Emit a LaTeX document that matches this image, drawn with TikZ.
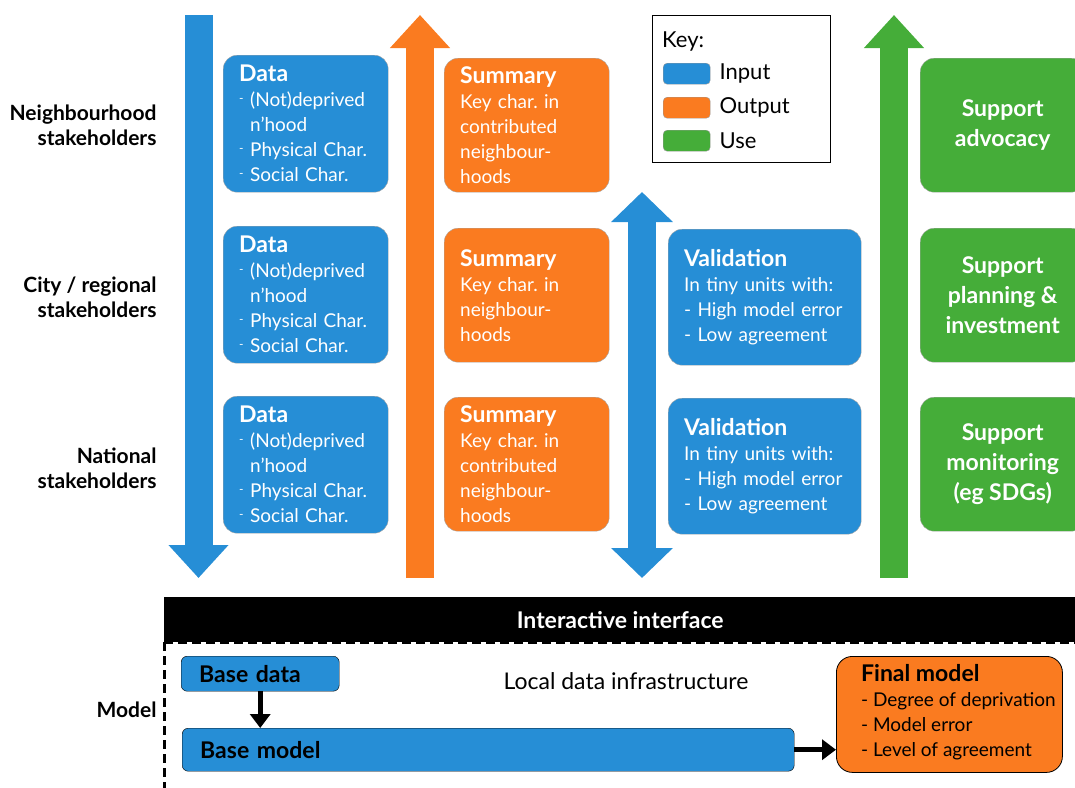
\documentclass[tikz,border=0pt]{standalone}
\usepackage{fontspec}
\setmainfont{Lato}
\frenchspacing
\usetikzlibrary{
  arrows.meta, % for the Triangle arrow tips of the big arrows
  positioning, % for relative placement of the key entries
}
\definecolor{inblue}{RGB}{38,142,214}
\definecolor{outorange}{RGB}{250,123,32}
\definecolor{usegreen}{RGB}{69,173,57}
\newcommand{\hd}[1]{{\fontsize{23}{27}\selectfont\bfseries #1}} % box heading
\newcommand{\bodyfont}{\fontsize{19}{25}\selectfont}
\newcommand{\dsh}{\makebox[11pt][l]{\raisebox{4pt}{\fontsize{12}{12}\selectfont -}}} % raised dash
\tikzset{
  box/.style={ % common style for the rounded boxes
    rectangle,draw=black!35,thin, % faint outline
    rounded corners=14pt, % soft corners
    inner sep=0pt, % the sizes are set by minimum width/height
    anchor=north west, % boxes are placed at their top left corner
    align=left,text=white,
    font=\bodyfont,
  },
  inbox/.style={box,fill=inblue}, % input boxes
  outbox/.style={box,fill=outorange}, % output boxes
  usebox/.style={box,fill=usegreen,align=center,font=\fontsize{23}{30}\selectfont\bfseries}, % use boxes
  level/.style={ % stakeholder labels on the left
    align=right,anchor=east,
    font=\fontsize{21}{25}\selectfont\bfseries,
  },
  bigdown/.style={line width=28pt,-{Triangle[length=33pt,width=58pt]}}, % big block arrows
  bigboth/.style={line width=28pt,{Triangle[length=30pt,width=60pt]}-{Triangle[length=30pt,width=60pt]}},
  swatch/.style={rectangle,rounded corners=4pt,draw=black!40,minimum width=47pt,minimum height=21pt,inner sep=0pt},
  keytext/.style={anchor=west,font=\fontsize{22}{24}\selectfont,inner sep=0pt},
  conn/.style={-{Triangle[length=14pt,width=20pt]},line width=5pt}, % black model arrows
  dashline/.style={line width=3pt,dash pattern=on 9pt off 5pt},
}
\begin{document}
\begin{tikzpicture}[x=1pt,y=-1pt]
\useasboundingbox (0,0) rectangle (1075,787);
% stakeholder levels
\node[level] (lvl1) at (160,125) {Neighbourhood\\stakeholders};
\node[level] (lvl2) at (160,297) {City / regional\\stakeholders};
\node[level] (lvl3) at (160,468) {National\\stakeholders};
% big arrows
\coordinate (inTop) at (198.5,15);
\coordinate (inBot) at (198.5,578);
\coordinate (outTop) at (420,15);
\coordinate (outBot) at (420,578);
\coordinate (valTop) at (642,192);
\coordinate (valBot) at (642,578);
\coordinate (useTop) at (894,15);
\coordinate (useBot) at (894,578);
\draw[bigdown,inblue] (inTop) -- (inBot);
\draw[bigdown,outorange] (outBot) -- (outTop);
\draw[bigboth,inblue] (valTop) -- (valBot);
\draw[bigdown,usegreen] (useBot) -- (useTop);
% data boxes
\foreach \i/\y in {1/55,2/226,3/396}{
  \node[inbox,minimum width=165pt,text width=133pt,minimum height=137pt] (data\i) at (223,\y)
    {\hd{Data}\\\dsh(Not)deprived\\\hspace*{11pt}n'hood\\\dsh Physical Char.\\\dsh Social Char.};
}
% summary boxes
\node[outbox,minimum width=165pt,text width=133pt,minimum height=134pt] (sum1) at (444,58)
  {\hd{Summary}\\Key char. in\\contributed\\neighbour-\\hoods};
\node[outbox,minimum width=165pt,text width=133pt,minimum height=134pt] (sum2) at (444,228)
  {\hd{Summary}\\Key char. in\\neighbour-\\hoods};
\node[outbox,minimum width=165pt,text width=133pt,minimum height=134pt] (sum3) at (444,397)
  {\hd{Summary}\\Key char. in\\contributed\\neighbour-\\hoods};
% validation boxes
\foreach \i/\y in {2/229,3/398}{
  \node[inbox,minimum width=193pt,text width=161pt,minimum height=136pt] (val\i) at (668,\y)
    {\hd{Validation}\\In tiny units with:\\- High model error\\- Low agreement};
}
% use boxes
\node[usebox,minimum width=165pt,minimum height=134pt] (use1) at (920,58) {Support\\advocacy};
\node[usebox,minimum width=165pt,minimum height=134pt] (use2) at (920,228) {Support\\planning \&\\investment};
\node[usebox,minimum width=165pt,minimum height=134pt] (use3) at (920,397) {Support\\monitoring\\(eg SDGs)};
% key
\node[draw,thick,anchor=north west,minimum width=178pt,minimum height=147pt,inner sep=0pt] (key) at (652,15) {};
\node[keytext] (keyt) at (662,42) {Key:};
\node[swatch,fill=inblue,anchor=north west] (kin) at (663,63) {};
\node[swatch,fill=outorange,anchor=north west] (kout) at (663,97) {};
\node[swatch,fill=usegreen,anchor=north west] (kuse) at (663,130) {};
\node[keytext,right=9pt of kin] (kint) {Input};
\node[keytext,right=9pt of kout] (koutt) {Output};
\node[keytext,right=9pt of kuse] (kuset) {Use};
% interactive interface and model
\node[fill=black,text=white,anchor=north west,minimum width=912pt,minimum height=45pt,inner sep=0pt,
  font=\fontsize{23}{26}\selectfont\bfseries] (iface) at (164,597) {Interactive interface};
\coordinate (mBot) at (165,790);
\draw[dashline] (iface.south west) -- (iface.south east);
\draw[dashline] (iface.south west) -- (iface.south west |- mBot);
\node[level] (mlabel) at (160,710) {Model};
\node[font=\fontsize{23}{26}\selectfont] (ldi) at (626,681) {Local data infrastructure};
\node[inbox,rounded corners=6pt,draw=black,text=black,minimum width=158pt,text width=122pt,minimum height=35pt,
  font=\fontsize{23}{26}\selectfont\bfseries] (bdata) at (181,656) {Base data};
\node[inbox,rounded corners=6pt,draw=black,text=black,minimum width=612pt,text width=576pt,minimum height=43pt,
  font=\fontsize{23}{26}\selectfont\bfseries] (bmodel) at (182,728) {Base model};
\node[outbox,draw=black,thick,text=black,rounded corners=16pt,minimum width=226pt,minimum height=116pt] (fmodel) at (836,656)
  {\begin{tabular}{@{\hspace{18pt}}l@{}}\hd{Final model}\\- Degree of deprivation\\- Model error\\- Level of agreement\end{tabular}};
\draw[conn] (bdata.south) -- (bdata.south |- bmodel.north);
\draw[conn] (bmodel.east) -- (bmodel.east -| fmodel.west);
\end{tikzpicture}
\end{document}
